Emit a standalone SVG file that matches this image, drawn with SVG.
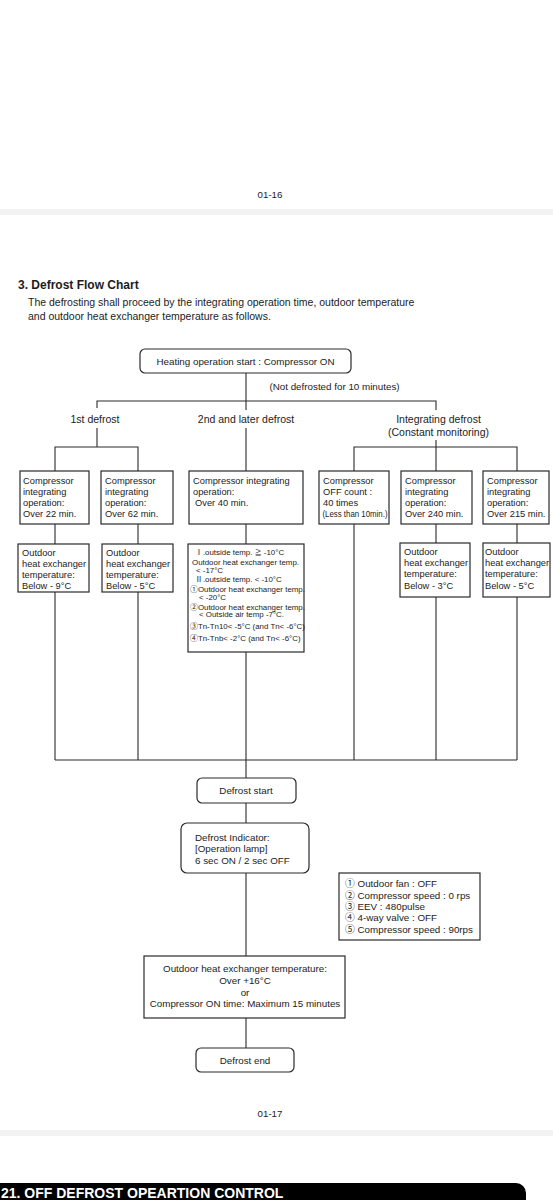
<svg xmlns="http://www.w3.org/2000/svg" width="553" height="1200" viewBox="0 0 553 1200">
<style>
.ln{stroke:#2a2a2a;stroke-width:1.1;fill:none}
.bx{fill:#fff;stroke:#2a2a2a;stroke-width:1.2}
.t{font-family:"Liberation Sans",Arial,"Noto Sans CJK JP",sans-serif;fill:#1c1c1c}
.s9{font-size:9.3px}
.s10{font-size:9.8px}
.s105{font-size:10.5px}
.s8{font-size:7.9px}
.m{text-anchor:middle}
</style>
<rect x="0" y="0" width="553" height="1200" fill="#fff"/>
<g id="page">
<text class="t m" x="270" y="198" font-size="9.7">01-16</text>
<rect x="0" y="209" width="553" height="6" fill="#f2f2f2"/>
<text class="t" x="18" y="289" font-size="12" font-weight="bold">3. Defrost Flow Chart</text>
<text class="t s105" x="28" y="306">The defrosting shall proceed by the integrating operation time, outdoor temperature</text>
<text class="t s105" x="28" y="320">and outdoor heat exchanger temperature as follows.</text>
<text class="t m" x="270" y="1117" font-size="9.7">01-17</text>
<rect x="0" y="1130" width="553" height="6" fill="#f2f2f2"/>
<rect x="-12" y="1183" width="538" height="34" rx="10" fill="#000"/>
<text class="t" x="1" y="1197.5" font-size="14" font-weight="bold" style="fill:#fff">21. OFF DEFROST OPEARTION CONTROL</text>
</g>
<g id="connectors">
<path class="ln" d="M246 373V410M97 408V401H436V410M97 428V447M55 471V447H138V471M246 428V471M436 440V447M354 471V447H517V471M436 447V471"/>
<path class="ln" d="M55 524V544M138 524V544M246 524V544M436 524V543M517 524V543"/>
<path class="ln" d="M55 592V760M138 592V760M246 652V778M354 524V760M436 597V760M517 597V760M55 760H517"/>
<path class="ln" d="M246 803V823M246 873V956M246 1018V1048"/>
</g>
<g id="labels">
<text class="t s10 m" x="334.5" y="390">(Not defrosted for 10 minutes)</text>
<text class="t s105 m" x="95" y="423">1st defrost</text>
<text class="t s105 m" x="246" y="423">2nd and later defrost</text>
<text class="t s105 m" x="438.5" y="423">Integrating defrost</text>
<text class="t s105 m" x="438.5" y="436">(Constant monitoring)</text>
</g>
<g id="start">
<rect class="bx" x="140" y="349" width="211" height="24" rx="5"/>
<text class="t s10 m" x="245.5" y="364.5">Heating operation start : Compressor ON</text>
</g>
<g id="n1a">
<rect class="bx" x="20" y="471" width="69" height="53"/>
<text class="t s9"><tspan x="23" y="483.5">Compressor</tspan><tspan x="23" y="494.5">integrating</tspan><tspan x="23" y="505.5">operation:</tspan><tspan x="23" y="516.5">Over 22 min.</tspan></text>
</g>
<g id="n2a">
<rect class="bx" x="101" y="471" width="72" height="53"/>
<text class="t s9"><tspan x="105" y="483.5">Compressor</tspan><tspan x="105" y="494.5">integrating</tspan><tspan x="105" y="505.5">operation:</tspan><tspan x="105" y="516.5">Over 62 min.</tspan></text>
</g>
<g id="n3a">
<rect class="bx" x="189" y="471" width="114" height="53"/>
<text class="t s9"><tspan x="193" y="483.5">Compressor integrating</tspan><tspan x="193" y="494.5">operation:</tspan><tspan x="195" y="505.5">Over 40 min.</tspan></text>
</g>
<g id="n4a">
<rect class="bx" x="319" y="471" width="70" height="53"/>
<text class="t s9"><tspan x="323" y="483.5">Compressor</tspan><tspan x="323" y="494.5">OFF count :</tspan><tspan x="323" y="505.5">40 times</tspan></text>
<text class="t" x="322.5" y="516.5" font-size="9" textLength="65" lengthAdjust="spacingAndGlyphs">(Less than 10min.)</text>
</g>
<g id="n5a">
<rect class="bx" x="401" y="471" width="71" height="53"/>
<text class="t s9"><tspan x="405" y="483.5">Compressor</tspan><tspan x="405" y="494.5">integrating</tspan><tspan x="405" y="505.5">operation:</tspan><tspan x="405" y="516.5">Over 240 min.</tspan></text>
</g>
<g id="n6a">
<rect class="bx" x="483" y="471" width="66" height="53"/>
<text class="t s9"><tspan x="487" y="483.5">Compressor</tspan><tspan x="487" y="494.5">integrating</tspan><tspan x="487" y="505.5">operation:</tspan><tspan x="487" y="516.5">Over 215 min.</tspan></text>
</g>
<g id="n1b">
<rect class="bx" x="18" y="544" width="71" height="48"/>
<text class="t s9"><tspan x="22" y="556">Outdoor</tspan><tspan x="22" y="567">heat exchanger</tspan><tspan x="22" y="578">temperature:</tspan><tspan x="22" y="589">Below - 9°C</tspan></text>
</g>
<g id="n2b">
<rect class="bx" x="102" y="544" width="71" height="48"/>
<text class="t s9"><tspan x="106" y="556">Outdoor</tspan><tspan x="106" y="567">heat exchanger</tspan><tspan x="106" y="578">temperature:</tspan><tspan x="106" y="589">Below - 5°C</tspan></text>
</g>
<g id="n3b">
<rect class="bx" x="188" y="544" width="116" height="108"/>
<text class="t s8"><tspan x="195" y="554.5">Ⅰ.outside temp. <tspan font-size="7">≧</tspan> -10°C</tspan><tspan x="192" y="565">Outdoor heat exchanger temp.</tspan><tspan x="196" y="573">&lt; -17°C</tspan><tspan x="195" y="581.5">Ⅱ.outside temp. &lt; -10°C</tspan><tspan x="190" y="591.5">①Outdoor heat exchanger temp.</tspan><tspan x="199" y="600">&lt; -20°C</tspan><tspan x="190" y="609.5">②Outdoor heat exchanger temp.</tspan><tspan x="199" y="617">&lt; Outside air temp -7°C.</tspan><tspan x="190" y="628.5">③Tn-Tn10&lt; -5°C (and Tn&lt; -6°C)</tspan><tspan x="190" y="640.5">④Tn-Tnb&lt; -2°C (and Tn&lt; -6°C)</tspan></text>
</g>
<g id="n5b">
<rect class="bx" x="400" y="543" width="70" height="54"/>
<text class="t s9"><tspan x="404" y="555">Outdoor</tspan><tspan x="404" y="566">heat exchanger</tspan><tspan x="404" y="577">temperature:</tspan><tspan x="404" y="588.5">Below - 3°C</tspan></text>
</g>
<g id="n6b">
<rect class="bx" x="483" y="543" width="67" height="54"/>
<text class="t s9"><tspan x="485" y="555">Outdoor</tspan><tspan x="485" y="566">heat exchanger</tspan><tspan x="485" y="577">temperature:</tspan><tspan x="485" y="588.5">Below - 5°C</tspan></text>
</g>
<g id="defrost-start">
<rect class="bx" x="197" y="778" width="99" height="25" rx="5"/>
<text class="t s10 m" x="246" y="794">Defrost start</text>
</g>
<g id="indicator">
<rect class="bx" x="181" y="823" width="128" height="50" rx="6"/>
<text class="t s10"><tspan x="195" y="840.5">Defrost Indicator:</tspan><tspan x="195" y="852">[Operation lamp]</tspan><tspan x="195" y="864">6 sec ON / 2 sec OFF</tspan></text>
</g>
<g id="actions">
<rect class="bx" x="339" y="873" width="141" height="67"/>
<text class="t s10"><tspan x="345" y="886.5">① Outdoor fan : OFF</tspan><tspan x="345" y="898.5">② Compressor speed : 0 rps</tspan><tspan x="345" y="910">③ EEV : 480pulse</tspan><tspan x="345" y="921">④ 4-way valve : OFF</tspan><tspan x="345" y="933">⑤ Compressor speed : 90rps</tspan></text>
</g>
<g id="end-condition">
<rect class="bx" x="144" y="956" width="201" height="62"/>
<text class="t s10 m"><tspan x="245" y="972">Outdoor heat exchanger temperature:</tspan><tspan x="245" y="984">Over +16°C</tspan><tspan x="245" y="995.5">or</tspan><tspan x="245" y="1007">Compressor ON time: Maximum 15 minutes</tspan></text>
</g>
<g id="defrost-end">
<rect class="bx" x="196" y="1048" width="98" height="24" rx="5"/>
<text class="t s10 m" x="245" y="1064">Defrost end</text>
</g>
</svg>
